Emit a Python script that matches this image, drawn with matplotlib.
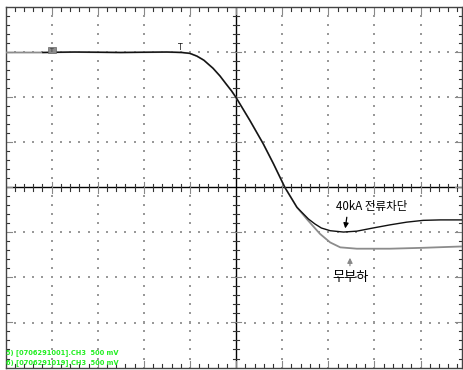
import matplotlib
matplotlib.use("Agg")
import matplotlib.pyplot as plt
from matplotlib.patches import Rectangle
import numpy as np

# Data in screen divisions (x: time div, y: voltage div, centre = 0)
load_x = [-4.19, -3.5, -2.5, -1.5, -1.17, -1.0, -0.85, -0.7, -0.5, -0.35, -0.2, -0.1, 0.0, 0.3, 0.59,
          0.81, 1.06, 1.32, 1.57, 1.71, 1.85, 2.04, 2.33, 2.62, 2.97, 3.34, 3.70, 4.06, 4.43, 4.9]
load_y = [3.0, 3.01, 3.0, 3.01, 3.0, 2.98, 2.92, 2.83, 2.65, 2.48, 2.28, 2.15, 2.0, 1.49, 0.97,
          0.53, 0.0, -0.44, -0.7, -0.81, -0.9, -0.96, -0.99, -0.97, -0.9, -0.83, -0.77, -0.73, -0.72, -0.72]

noload_x = [-5.0, -4.2, -3.5, -2.5, -1.5, -1.17, -1.0, -0.85, -0.7, -0.5, -0.35, -0.2, -0.1, 0.0, 0.3, 0.59,
            0.81, 1.06, 1.32, 1.55, 1.82, 2.04, 2.26, 2.62, 3.34, 4.06, 4.9]
noload_y = [3.0, 3.0, 3.01, 3.0, 3.01, 3.0, 2.98, 2.92, 2.83, 2.65, 2.48, 2.28, 2.15, 2.0, 1.49, 0.97,
            0.53, 0.0, -0.44, -0.72, -1.03, -1.22, -1.33, -1.36, -1.36, -1.34, -1.31]

label_load = "40kA 전류차단"
label_noload = "무부하"
legend_lines = ["5) [0706291001].CH3  500 mV", "6) [0706291019].CH3  500 mV"]

W, H = 463, 370
fig = plt.figure(figsize=(W / 100, H / 100), dpi=100)
x0, x1 = 5.5, 462
y0, y1 = 7.5, 367.5
ax = fig.add_axes([x0 / W, 1 - y1 / H, (x1 - x0) / W, (y1 - y0) / H])
XL = (-5.0, 4.9)
YL = (-4.0, 4.0)
ax.set_xlim(*XL)
ax.set_ylim(*YL)
ax.set_xticks([])
ax.set_yticks([])
for s in ax.spines.values():
    s.set_color("#444444")
    s.set_linewidth(1.0)

grid_c = "#999999"
# dotted grid: dots every 0.2 div along major lines
minor_x = np.arange(-5.0, 4.95, 0.2)
minor_y = np.arange(-4.0, 4.01, 0.2)
for gx in range(-4, 5):
    if gx == 0:
        continue
    ax.scatter(np.full(len(minor_y), gx), minor_y, s=0.7, c=grid_c, marker="s", linewidths=0, zorder=1)
for gy in range(-3, 4):
    if gy == 0:
        continue
    ax.scatter(minor_x, np.full(len(minor_x), gy), s=0.7, c=grid_c, marker="s", linewidths=0, zorder=1)

# centre crosshair
ax.axhline(0, color="black", lw=1.0, zorder=2)
ax.axvline(0, color="black", lw=1.0, zorder=2)
tl = 0.07
tlx = 0.07
for xv in minor_x:
    if abs(round(xv, 3)) < 1e-6:
        continue
    major = abs(xv - round(xv)) < 1e-6
    ax.plot([xv, xv], [-tl * (1.6 if major else 1), tl * (1.6 if major else 1)],
            color=("#888888" if major else "#333333"), lw=0.8, zorder=2)
for yv in minor_y:
    if abs(round(yv, 3)) < 1e-6:
        continue
    major = abs(yv - round(yv)) < 1e-6
    ax.plot([-tlx * (1.6 if major else 1), tlx * (1.6 if major else 1)], [yv, yv],
            color=("#888888" if major else "#333333"), lw=0.8, zorder=2)

# frame ticks (inward)
for xv in minor_x[1:]:
    major = abs(xv - round(xv)) < 1e-6
    L = 0.15 if major else 0.07
    c = "#888888" if major else "#333333"
    ax.plot([xv, xv], [YL[1], YL[1] - L], color=c, lw=0.8, zorder=2)
    ax.plot([xv, xv], [YL[0], YL[0] + L], color=c, lw=0.8, zorder=2)
for yv in minor_y[1:-1]:
    major = abs(yv - round(yv)) < 1e-6
    L = 0.15 if major else 0.07
    c = "#888888" if major else "#333333"
    ax.plot([XL[0], XL[0] + L], [yv, yv], color=c, lw=0.8, zorder=2)
    ax.plot([XL[1], XL[1] - L], [yv, yv], color=c, lw=0.8, zorder=2)

# traces
ax.plot(noload_x, noload_y, color="#8c8c8c", lw=1.3, zorder=3, solid_joinstyle="round")
ax.plot(load_x, load_y, color="#111111", lw=1.0, zorder=4, solid_joinstyle="round")

# trigger markers
ax.add_patch(Rectangle((-4.07, 2.98), 0.17, 0.14, facecolor="#8c8c8c", edgecolor="#666666", lw=0.5, zorder=6))
ax.text(-3.985, 3.05, "T", fontsize=4.5, color="#333333", ha="center", va="center", zorder=7)
ax.text(-1.2, 3.0, "T", fontsize=5.5, color="#111111", ha="center", va="bottom", zorder=6)

# annotations
kr = ["Noto Sans CJK KR", "DejaVu Sans"]
ax.text(2.95, -0.43, label_load, family=kr, fontsize=8.3, color="black", ha="center", va="center", zorder=6)
ax.annotate("", xy=(2.36, -0.97), xytext=(2.41, -0.6),
            arrowprops=dict(arrowstyle="-|>,head_length=0.3,head_width=0.15", color="black", lw=0.9),
            zorder=6)
ax.text(2.48, -2.0, label_noload, family=kr, fontsize=9.5, color="black", ha="center", va="center", zorder=6)
ax.annotate("", xy=(2.47, -1.5), xytext=(2.47, -1.8),
            arrowprops=dict(arrowstyle="-|>,head_length=0.3,head_width=0.15", color="#888888", lw=0.9),
            zorder=6)

# channel legend text
ax.text(-4.99, -3.67, legend_lines[0], fontsize=4.8, color="#22ee22", ha="left", va="center",
        fontweight="bold", zorder=7)
ax.text(-4.99, -3.89, legend_lines[1], fontsize=4.8, color="#22ee22", ha="left", va="center",
        fontweight="bold", zorder=7)

fig.savefig("out.png", dpi=100)
